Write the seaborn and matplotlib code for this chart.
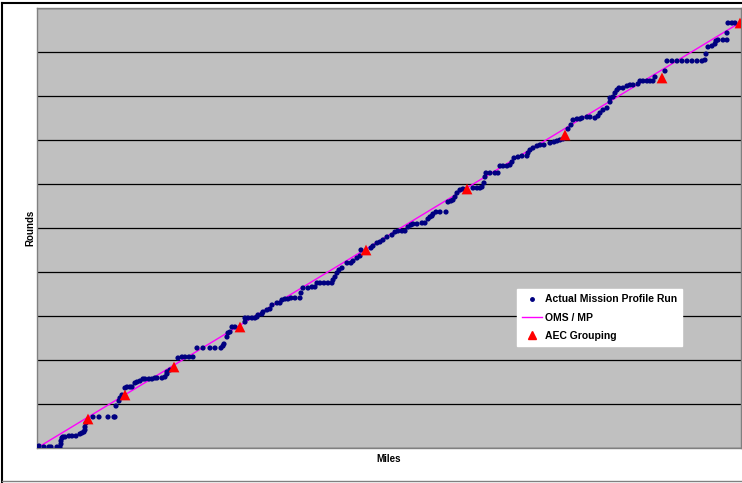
import matplotlib
matplotlib.use("Agg")
import matplotlib.pyplot as plt
import seaborn as sns
import pandas as pd
from matplotlib.lines import Line2D

# actual mission profile run (miles, rounds)
run_miles = [20, 70, 120, 140, 200, 230, 240, 240, 250, 260, 280, 320, 350, 390, 430, 450, 470, 480, 480, 490,
             560, 620, 710, 770, 780, 790, 820, 830, 850, 880, 900, 930, 950, 980, 1000, 1030, 1060, 1080, 1120, 1150,
             1180, 1200, 1250, 1280, 1300, 1300, 1330, 1410, 1450, 1480, 1520, 1560, 1600, 1660, 1730, 1780, 1840, 1860,
             1870, 1900, 1910, 1930, 1950, 1980, 2080, 2080, 2110, 2150, 2180, 2200, 2210, 2250, 2260, 2300, 2330, 2350,
             2400, 2430, 2450, 2480, 2510, 2540, 2580, 2630, 2640, 2660, 2710, 2750, 2780, 2800, 2830, 2870, 2910, 2950,
             2960, 2980, 3000, 3020, 3050, 3100, 3140, 3160, 3200, 3230, 3240, 3340, 3360, 3400, 3430, 3460, 3500, 3550,
             3580, 3610, 3650, 3680, 3710, 3740, 3760, 3800, 3850, 3880, 3910, 3930, 3950, 3960, 3990, 4030, 4090, 4110,
             4140, 4160, 4180, 4200, 4230, 4260, 4360, 4400, 4430, 4450, 4470, 4480, 4490, 4530, 4580, 4610, 4630, 4660,
             4700, 4730, 4750, 4770, 4810, 4850, 4900, 4910, 4930, 4960, 5000, 5030, 5070, 5130, 5170, 5200, 5230, 5260,
             5310, 5340, 5360, 5400, 5430, 5450, 5500, 5530, 5580, 5610, 5630, 5660, 5700, 5730, 5730, 5760, 5780, 5800,
             5820, 5860, 5900, 5930, 5960, 6010, 6030, 6060, 6100, 6130, 6160, 6180, 6280, 6300, 6350, 6400, 6450, 6500,
             6550, 6600, 6650, 6680, 6690, 6710, 6750, 6780, 6790, 6810, 6860, 6900, 6900, 6910, 6950, 6980]
run_rounds = [20, 10, 10, 10, 10, 10, 40, 70, 100, 110, 110, 120, 120, 120, 140, 150, 160, 180, 210, 250,
              310, 310, 310, 310, 310, 420, 470, 500, 530, 600, 610, 610, 610, 650, 660, 670, 690, 690, 690, 690,
              700, 700, 700, 710, 740, 760, 780, 900, 910, 910, 910, 910, 1000, 1000, 1000, 1000, 1000, 1020,
              1040, 1110, 1150, 1160, 1210, 1210, 1260, 1300, 1300, 1300, 1300, 1310, 1330, 1340, 1360, 1380, 1390, 1430,
              1450, 1450, 1480, 1490, 1490, 1500, 1500, 1500, 1550, 1600, 1600, 1610, 1610, 1650, 1650, 1650, 1650, 1650,
              1680, 1710, 1750, 1780, 1800, 1850, 1850, 1870, 1900, 1920, 1980, 2000, 2020, 2050, 2060, 2080, 2110, 2130,
              2160, 2170, 2170, 2170, 2210, 2230, 2240, 2240, 2250, 2250, 2290, 2310, 2320, 2340, 2360, 2360, 2360, 2460,
              2470, 2480, 2510, 2550, 2580, 2590, 2600, 2600, 2600, 2610, 2650, 2710, 2750, 2750, 2750, 2750, 2820, 2820,
              2820, 2830, 2860, 2900, 2910, 2920, 2920, 2950, 2980, 3000, 3020, 3030, 3030, 3050, 3060, 3070, 3080, 3090,
              3190, 3230, 3280, 3290, 3290, 3300, 3310, 3310, 3300, 3320, 3350, 3380, 3400, 3460, 3500, 3510, 3550, 3580,
              3600, 3600, 3620, 3630, 3630, 3640, 3670, 3670, 3670, 3670, 3670, 3710, 3770, 3870, 3870, 3870, 3870, 3870,
              3870, 3870, 3870, 3880, 3940, 4010, 4020, 4040, 4070, 4080, 4080, 4080, 4150, 4250, 4250, 4250]

# OMS / MP straight line
oms_miles = [0, 7040]
oms_rounds = [0, 4260]

# AEC grouping points
aec_miles = [510, 880, 1370, 2030, 3290, 4300, 5280, 6250, 7030]
aec_rounds = [290, 530, 810, 1210, 1980, 2590, 3130, 3700, 4250]

run = pd.DataFrame({"miles": run_miles, "rounds": run_rounds})
oms = pd.DataFrame({"miles": oms_miles, "rounds": oms_rounds})
aec = pd.DataFrame({"miles": aec_miles, "rounds": aec_rounds})

plt.rcParams["font.family"] = ["Liberation Sans", "DejaVu Sans"]

fig = plt.figure(figsize=(7.42, 4.83), dpi=100)
ax = fig.add_axes([37 / 742, 35 / 483, 704 / 742, 440 / 483])
ax.set_facecolor("#C0C0C0")

sns.lineplot(x="miles", y="rounds", data=oms, ax=ax, color="#FF00FF", linewidth=1, zorder=2)
sns.scatterplot(x="miles", y="rounds", data=run, ax=ax, color="#000080", s=14, edgecolor="none", zorder=3)
sns.scatterplot(x="miles", y="rounds", data=aec, ax=ax, color="#FF0000", marker="^", s=60, edgecolor="none", zorder=4)

ax.set_xlim(0, 7040)
ax.set_ylim(0, 4400)
ax.set_yticks(range(0, 4401, 440))
ax.set_xticks([])
ax.grid(axis="y", color="black", linewidth=0.9)
ax.set_axisbelow(True)
ax.tick_params(left=False, labelleft=False, bottom=False, labelbottom=False)
for s in ax.spines.values():
    s.set_color("#808080")
    s.set_linewidth(1)

ax.set_xlabel("Miles", fontsize=7, fontweight="bold", labelpad=4)
ax.set_ylabel("Rounds", fontsize=7, fontweight="bold", labelpad=1)

handles = [
    Line2D([], [], linestyle="none", marker="o", markersize=2.5, color="#000080"),
    Line2D([], [], color="#FF00FF", linewidth=1),
    Line2D([], [], linestyle="none", marker="^", markersize=6, color="#FF0000"),
]
leg = ax.legend(handles, ["Actual Mission Profile Run", "OMS / MP", "AEC Grouping"],
                loc="upper left", bbox_to_anchor=(0.682, 0.361), borderaxespad=0,
                frameon=True, fancybox=False, framealpha=1, fontsize=7.5, handlelength=1.9,
                labelspacing=0.8, borderpad=0.5, handletextpad=0.25)
leg.get_frame().set_facecolor("white")
leg.get_frame().set_edgecolor("white")
leg.set_zorder(10)
for t in leg.get_texts():
    t.set_fontweight("bold")

# outer frame of the chart
fig.add_artist(Line2D([2 / 742, 2 / 742], [0, 1 - 3 / 483], color="black", linewidth=1.5, transform=fig.transFigure))
fig.add_artist(Line2D([2 / 742, 1], [1 - 3 / 483, 1 - 3 / 483], color="black", linewidth=1.5, transform=fig.transFigure))
fig.add_artist(Line2D([2 / 742, 1], [2 / 483, 2 / 483], color="#808080", linewidth=1, transform=fig.transFigure))

fig.savefig("out.png", dpi=100)
